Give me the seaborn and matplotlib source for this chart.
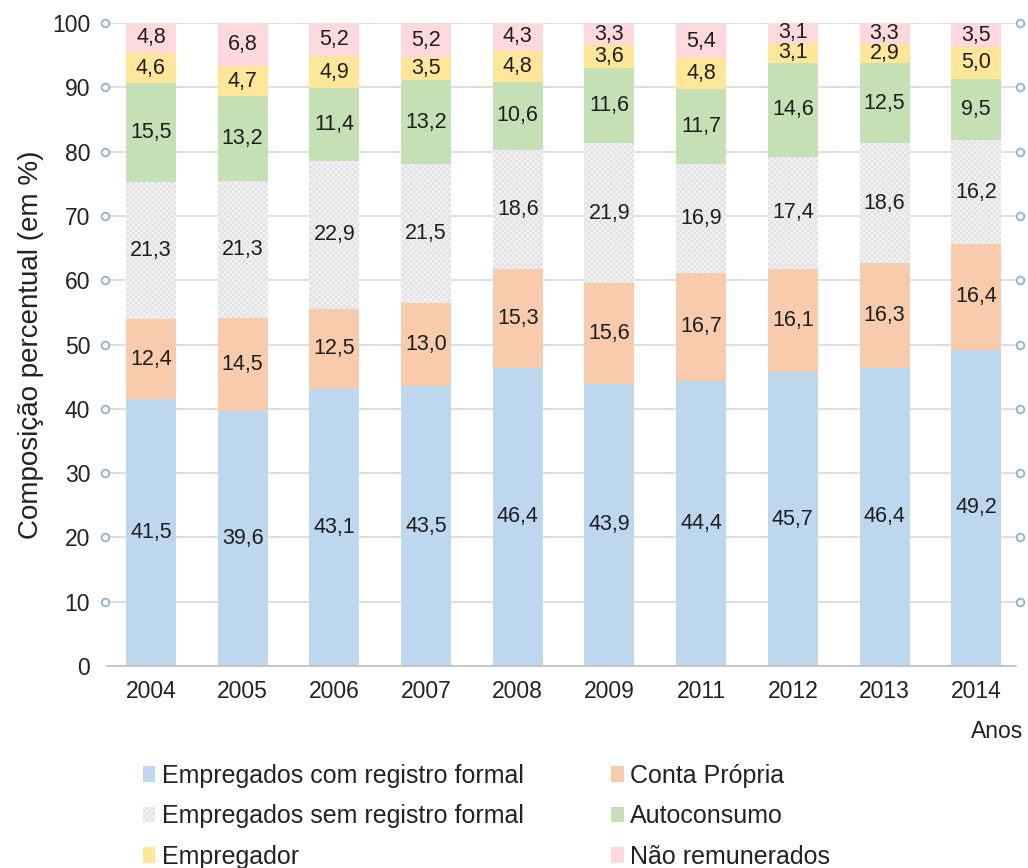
import matplotlib
matplotlib.use("Agg")
import matplotlib.pyplot as plt
import seaborn as sns
import numpy as np
import pandas as pd
from matplotlib.patches import Patch

years = ["2004", "2005", "2006", "2007", "2008", "2009", "2011", "2012", "2013", "2014"]
com_registro = [41.5, 39.6, 43.1, 43.5, 46.4, 43.9, 44.4, 45.7, 46.4, 49.2]
conta_propria = [12.4, 14.5, 12.5, 13.0, 15.3, 15.6, 16.7, 16.1, 16.3, 16.4]
sem_registro = [21.3, 21.3, 22.9, 21.5, 18.6, 21.9, 16.9, 17.4, 18.6, 16.2]
autoconsumo = [15.5, 13.2, 11.4, 13.2, 10.6, 11.6, 11.7, 14.6, 12.5, 9.5]
empregador = [4.6, 4.7, 4.9, 3.5, 4.8, 3.6, 4.8, 3.1, 2.9, 5.0]
nao_remunerados = [4.8, 6.8, 5.2, 5.2, 4.3, 3.3, 5.4, 3.1, 3.3, 3.5]

series_names = ["Empregados com registro formal", "Conta Própria",
                "Empregados sem registro formal", "Autoconsumo",
                "Empregador", "Não remunerados"]
series_values = [com_registro, conta_propria, sem_registro, autoconsumo,
                 empregador, nao_remunerados]
colors = ["#BDD7EE", "#F8CBAD", "#F2F2F2", "#C5E0B4", "#FFE699", "#FFD9DE"]

sns.set_theme(style="white")
plt.rcParams["font.family"] = ["Liberation Sans", "DejaVu Sans"]
plt.rcParams["hatch.linewidth"] = 0.6

fig = plt.figure(figsize=(10.28, 8.68), dpi=100)
ax = fig.add_axes([0.104, 0.2327, 0.884, 0.7408])

bottom = np.zeros(len(years))
handles = []
for name, vals, col in zip(series_names, series_values, colors):
    vals = np.array(vals)
    if name == "Empregados sem registro formal":
        kw = dict(hatch="xxxxxx", edgecolor="#DEDEDE", linewidth=0)
    else:
        kw = dict(edgecolor="none", linewidth=0)
    sns.barplot(x=years, y=vals, bottom=bottom, color=col, saturation=1,
                width=0.545, ax=ax, zorder=2, **kw)
    for i, (b, v) in enumerate(zip(bottom, vals)):
        ax.text(i, b + v / 2, f"{v:.1f}".replace(".", ","), ha="center",
                va="center", fontsize=15.5, color="#1E1E1E", zorder=3)
    handles.append(Patch(facecolor=col, label=name, **kw))
    bottom = bottom + vals

ax.set_ylim(0, 100)
ax.set_xlim(-0.48, 9.43)
ax.set_yticks(np.arange(0, 101, 10))
ax.yaxis.grid(True, color="#D9D9D9", linewidth=1.2, zorder=0)
ax.set_axisbelow(True)
for s in ["top", "right", "left"]:
    ax.spines[s].set_visible(False)
ax.spines["bottom"].set_color("#BFBFBF")
ax.spines["bottom"].set_linewidth(1.2)
ax.tick_params(axis="y", length=0, pad=12, labelsize=16.5, labelcolor="#222222")
ax.tick_params(axis="x", length=0, pad=10, labelsize=16.5, labelcolor="#222222")

# small circle markers at the gridline ends
ticks = np.arange(10, 101, 10)
ax.plot(np.full(len(ticks), -0.002), ticks, transform=ax.get_yaxis_transform(),
        ls="none", marker="o", ms=5.5, mfc="white", mec="#8DB4CF", mew=1.3,
        clip_on=False, zorder=4)
ax.plot(np.full(len(ticks), 1.005), ticks, transform=ax.get_yaxis_transform(),
        ls="none", marker="o", ms=5.5, mfc="white", mec="#8DB4CF", mew=1.3,
        clip_on=False, zorder=4)

ax.set_ylabel("Composição percentual (em %)", fontsize=20, color="#222222",
              labelpad=6)
fig.text(1023 / 1028, 1 - 731 / 868, "Anos", ha="right", va="center",
         fontsize=16.5, color="#222222")

order = [0, 2, 4, 1, 3, 5]
fig.legend([handles[i] for i in order], [series_names[i] for i in order],
           loc="upper left", bbox_to_anchor=(0.139, 0.12), ncol=2,
           frameon=False, fontsize=18, handlelength=0.5, handleheight=0.6,
           handletextpad=0.25, columnspacing=3.5, labelspacing=0.66,
           labelcolor="#222222", borderaxespad=0, borderpad=0)

fig.savefig("out.png", dpi=100, facecolor="white")
